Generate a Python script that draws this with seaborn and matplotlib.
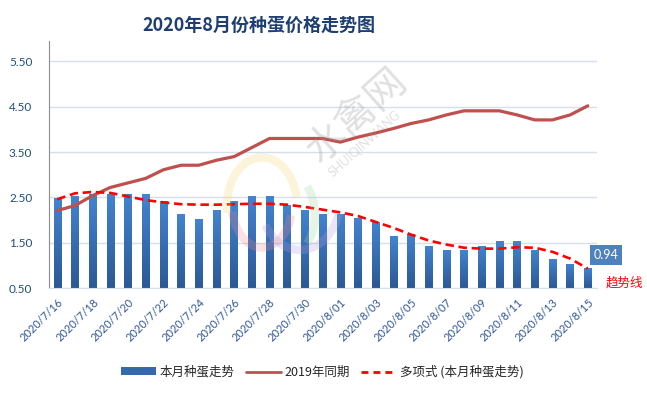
import numpy as np
import pandas as pd
import seaborn as sns
import matplotlib.pyplot as plt
from matplotlib.patches import Patch, Arc
from matplotlib.lines import Line2D
from matplotlib.colors import LinearSegmentedColormap

dates = ["2020/7/%d" % d for d in range(16, 32)] + ["2020/8/%02d" % d for d in range(1, 16)]
this_month = [2.48, 2.53, 2.57, 2.57, 2.57, 2.57, 2.41, 2.13, 2.02, 2.22, 2.41, 2.53, 2.53, 2.33, 2.22, 2.13,
              2.14, 2.04, 1.95, 1.64, 1.70, 1.43, 1.35, 1.35, 1.43, 1.54, 1.54, 1.35, 1.14, 1.03, 0.94]
last_year = [2.21, 2.32, 2.54, 2.72, 2.82, 2.92, 3.11, 3.21, 3.21, 3.32, 3.40, 3.60, 3.80, 3.80, 3.80, 3.80,
             3.72, 3.83, 3.92, 4.02, 4.13, 4.21, 4.32, 4.41, 4.41, 4.41, 4.32, 4.21, 4.21, 4.32, 4.52]
trend = [2.46, 2.59, 2.62, 2.60, 2.52, 2.44, 2.39, 2.35, 2.34, 2.34, 2.35, 2.36, 2.36, 2.34, 2.29, 2.23,
         2.17, 2.09, 1.96, 1.83, 1.68, 1.55, 1.46, 1.39, 1.37, 1.37, 1.40, 1.39, 1.30, 1.15, 0.93]
yticks = [0.5, 1.5, 2.5, 3.5, 4.5, 5.5]

df = pd.DataFrame({"date": dates, "v": this_month, "ly": last_year, "trend": trend})
pos = np.arange(len(df))

sns.set_style("white")
plt.rcParams["font.family"] = ["Lato", "Noto Sans CJK SC", "DejaVu Sans"]
cjk = ["Noto Sans CJK SC", "DejaVu Sans"]

fig = plt.figure(figsize=(6.47, 3.93), dpi=100)
ax = fig.add_axes([0.0757, 0.267, 0.8473, 0.6286])

# faint logo swirl behind the plot
for (cx, cy, w, h, t1, t2, col) in [(262, 205, 70, 95, 20, 200, "#F5D76E"),
                                   (262, 205, 60, 85, 200, 330, "#F08A8A"),
                                   (280, 215, 70, 90, 300, 60, "#9ED49A"),
                                   (300, 200, 80, 100, 230, 330, "#B79AD8")]:
    fig.patches.append(Arc((cx / 647, 1 - cy / 393), w / 647, h / 393, theta1=t1, theta2=t2,
                           transform=fig.transFigure, lw=6, color=col, alpha=0.25, zorder=0))

sns.barplot(data=df, x="date", y="v", color="#3A72BA", width=0.42, saturation=1, ax=ax, zorder=2)
ax.patch.set_alpha(0)

# gradient fill on bars
grad = np.linspace(0, 1, 64).reshape(-1, 1)
cmap = LinearSegmentedColormap.from_list("b", ["#2B5995", "#4383D0"])
for p in ax.patches:
    x0, y0 = p.get_x(), p.get_y()
    w, h = p.get_width(), p.get_height()
    im = ax.imshow(grad, extent=[x0, x0 + w, 0.5, y0 + h], origin="lower", cmap=cmap,
                   aspect="auto", zorder=2)
    im.set_clip_path(p)
    p.set_facecolor("none")
    p.set_edgecolor("none")

ax.plot(pos, df["ly"], color="#C0504D", lw=2.3, zorder=3)
ax.plot(pos, df["trend"], color="#FF0000", lw=1.9, dashes=(3.2, 1.8), zorder=4)

ax.set_xlim(-0.47, len(df) - 0.47)
ax.set_ylim(0.5, 5.95)
ax.set_yticks(yticks)
ax.set_yticklabels(["%.2f" % t for t in yticks], color="#1F4E79", fontsize=8.5)
ax.yaxis.grid(True, color="#D6E0EC", lw=1)
ax.set_axisbelow(True)
ax.set_xticks(pos[::2])
ax.set_xticklabels(dates[::2], rotation=45, ha="right", rotation_mode="anchor",
                   color="#2F5597", fontsize=8)
ax.tick_params(axis="both", length=0)
ax.tick_params(axis="x", pad=6)
ax.tick_params(axis="y", pad=12)
ax.set_xlabel("")
ax.set_ylabel("")
for s in ["top", "right"]:
    ax.spines[s].set_visible(False)
ax.spines["left"].set_color("#8C8C8C")
ax.spines["bottom"].set_color("#D6E0EC")

fig.text(259 / 647, 1 - 25 / 393, "2020年8月份种蛋价格走势图", ha="center", va="center",
         fontsize=13, fontweight="bold", color="#1F3F73", family=cjk)

# watermark
fig.text(357 / 647, 1 - 116 / 393, "水禽网", ha="center", va="center", rotation=42,
         fontsize=29, color="#9A9A9A", alpha=0.3, family=cjk)
fig.text(365 / 647, 1 - 144 / 393, "SHUIQINWANG", ha="center", va="center", rotation=42,
         fontsize=9, color="#9A9A9A", alpha=0.3)

fig.text(606 / 647, 1 - 255 / 393, "0.94", ha="center", va="center", fontsize=9, color="white",
         bbox=dict(boxstyle="square,pad=0.3", fc="#4F81BD", ec="none"))
fig.text(624 / 647, 1 - 283 / 393, "趋势线", ha="center", va="center", fontsize=9,
         color="#FF0000", family=cjk)

handles = [Patch(facecolor="#3568AC", edgecolor="none"),
           Line2D([], [], color="#C0504D", lw=2),
           Line2D([], [], color="#FF0000", lw=2, dashes=(2.5, 1.8))]
labels = ["本月种蛋走势", "2019年同期", "多项式 (本月种蛋走势)"]
fig.legend(handles, labels, loc="center", bbox_to_anchor=(322 / 647, 1 - 372 / 393), ncol=3,
           frameon=False, prop={"family": cjk, "size": 9}, handlelength=2.8, handleheight=0.6,
           columnspacing=0.9, handletextpad=0.3)

fig.savefig("out.png", dpi=100)
